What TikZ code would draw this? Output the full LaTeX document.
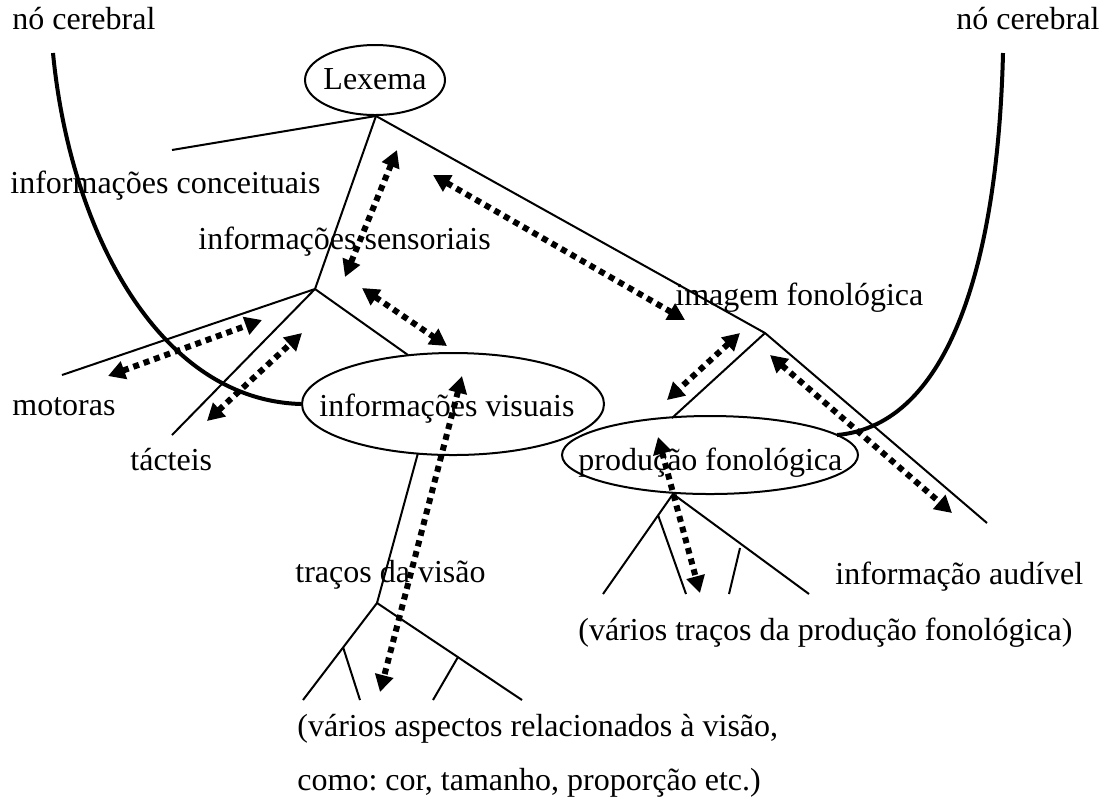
\documentclass[tikz,border=0pt]{standalone}
\usepackage{fontspec}
\setmainfont{Liberation Serif}
\usetikzlibrary{arrows.meta,shapes.geometric}
\frenchspacing
\begin{document}
\begin{tikzpicture}[x=0.5pt,y=-0.5pt,
  every node/.style={font=\fontsize{16}{19}\selectfont},
  txt/.style={anchor=base west, inner sep=0pt},
  oval/.style={draw, ellipse, line width=1pt, inner sep=0pt},
  branch/.style={line width=1pt},
  nerve/.style={line width=2pt},
  link/.style={line width=3pt, dash pattern=on 3pt off 2.5pt,
    {Triangle[length=8.5pt,width=9pt]}-{Triangle[length=8.5pt,width=9pt]}},
]
\useasboundingbox (0,0) rectangle (1113,811);

% ellipses
\node[oval, minimum width=70pt, minimum height=35pt] (lex) at (375,80) {};
\node[oval, minimum width=151pt, minimum height=51pt] (vis) at (453,404) {};
\node[oval, minimum width=148pt, minimum height=39pt] (prod) at (710,455) {};

% texts
\node[txt] (t1) at (12,29) {nó cerebral};
\node[txt] (t2) at (956,29) {nó cerebral};
\node[anchor=base, inner sep=0pt] (t3) at (375,89) {Lexema};
\node[txt] (t4) at (10,193) {informações conceituais};
\node[txt] (t5) at (198,249) {informações sensoriais};
\node[txt] (t6) at (675,305) {imagem fonológica};
\node[txt] (t7) at (12,415) {motoras};
\node[txt] (t8) at (130,470) {tácteis};
\node[txt] (t9) at (319,416) {informações visuais};
\node[txt] (t10) at (578,470) {produção fonológica};
\node[txt] (t11) at (295,582) {traços da visão};
\node[txt] (t12) at (835,584) {informação audível};
\node[txt] (t13) at (578,640) {(vários traços da produção fonológica)};
\node[txt] (t14) at (297,736) {(vários aspectos relacionados à visão,};
\node[txt] (t15) at (297,790) {como: cor, tamanho, proporção etc.)};

% junction / end coordinates
\coordinate (lexB) at (376,116);
\coordinate (conc) at (172,150);
\coordinate (sens) at (315,289);
\coordinate (imag) at (765,333);
\coordinate (mot) at (62,375);
\coordinate (tac) at (172,435);
\coordinate (visT) at (408,355);
\coordinate (visB) at (418,453);
\coordinate (trac) at (377,603);
\coordinate (tvL) at (303,700);
\coordinate (tvR) at (522,700);
\coordinate (tvA) at (343,647);
\coordinate (tvAe) at (360,700);
\coordinate (tvB) at (458,657);
\coordinate (tvBe) at (433,700);
\coordinate (prodT) at (672,418);
\coordinate (aud) at (987,523);
\coordinate (prodB) at (673,494);
\coordinate (pfL) at (603,594);
\coordinate (pfR) at (809,594);
\coordinate (pfA) at (658,515);
\coordinate (pfAe) at (686,594);
\coordinate (pfB) at (740,548);
\coordinate (pfBe) at (729,594);
\coordinate (nL) at (53,53);
\coordinate (nR) at (1003,53);
\coordinate (prodR) at (837,435);

% branches
\draw[branch] (conc) -- (lexB) -- (imag) -- (aud);
\draw[branch] (lexB) -- (sens) -- (mot);
\draw[branch] (sens) -- (tac);
\draw[branch] (sens) -- (visT);
\draw[branch] (visB) -- (trac);
\draw[branch] (tvL) -- (trac) -- (tvR);
\draw[branch] (tvA) -- (tvAe);
\draw[branch] (tvB) -- (tvBe);
\draw[branch] (imag) -- (prodT);
\draw[branch] (pfL) -- (prodB) -- (pfR);
\draw[branch] (pfA) -- (pfAe);
\draw[branch] (pfB) -- (pfBe);

% brain-node arcs
\draw[nerve] (nL) .. controls (70,230) and (158,400) .. (vis.west);
\draw[nerve] (nR) .. controls (998,260) and (950,425) .. (prodR);

% dotted double arrows
\coordinate (a1s) at (397,150); \coordinate (a1e) at (345,277);
\coordinate (a2s) at (433,175); \coordinate (a2e) at (685,320);
\coordinate (a3s) at (362,288); \coordinate (a3e) at (447,346);
\coordinate (a4s) at (108,376); \coordinate (a4e) at (262,320);
\coordinate (a5s) at (207,421); \coordinate (a5e) at (302,333);
\coordinate (a6s) at (462,376); \coordinate (a6e) at (380,692);
\coordinate (a7s) at (740,333); \coordinate (a7e) at (667,400);
\coordinate (a8s) at (770,355); \coordinate (a8e) at (952,513);
\coordinate (a9s) at (658,437); \coordinate (a9e) at (700,593);
\draw[link] (a1s) -- (a1e);
\draw[link] (a2s) -- (a2e);
\draw[link] (a3s) -- (a3e);
\draw[link] (a4s) -- (a4e);
\draw[link] (a5s) -- (a5e);
\draw[link] (a6s) -- (a6e);
\draw[link] (a7s) -- (a7e);
\draw[link] (a8s) -- (a8e);
\draw[link] (a9s) -- (a9e);
\end{tikzpicture}
\end{document}
